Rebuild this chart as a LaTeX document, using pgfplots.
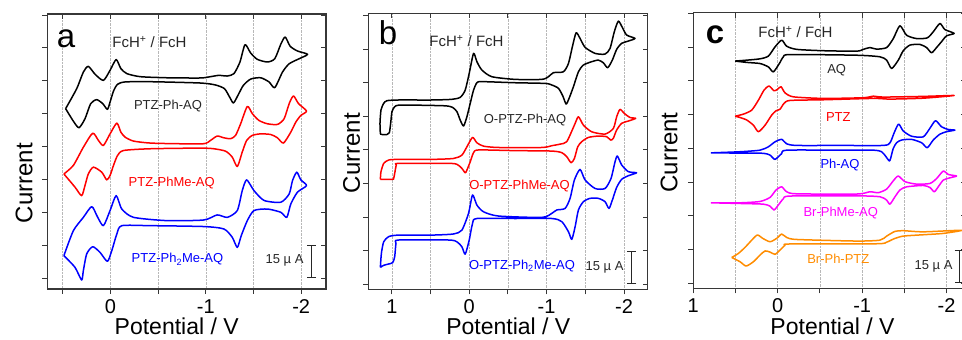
\documentclass[border=0pt]{standalone}
\usepackage{fontspec}
\setmainfont{Liberation Sans}
\usepackage{pgfplots}
\pgfplotsset{compat=1.18}
\usetikzlibrary{arrows.meta}

\definecolor{cvred}{RGB}{255,0,0}
\definecolor{cvblue}{RGB}{0,0,255}
\definecolor{cvmag}{RGB}{255,0,255}
\definecolor{cvorange}{RGB}{255,140,0}
\definecolor{frame}{RGB}{55,55,55}

\pgfplotsset{
  cvbase/.style={
    scale only axis, x dir=reverse,
    axis line style={draw=frame, line width=1.1pt},
    ytick={0,15,...,120}, yticklabels={},
    xmajorgrids, xminorgrids,
    major grid style={densely dotted, black!28, line width=0.6pt},
    minor grid style={densely dotted, black!28, line width=0.6pt},
    tick align=outside, xtick pos=bottom, ytick pos=left,
    major tick length=5pt, minor tick length=5pt,
    tick style={draw=frame, line width=1pt},
    minor tick style={draw=frame, line width=1pt},
    xticklabel style={font=\fontsize{20}{20}\selectfont, text=black, yshift=-2pt},
    /pgf/number format/assume math mode=true,
  },
  cvmirror/.style={
    scale only axis, x dir=reverse,
    axis line style={draw=frame, line width=1.1pt},
    ytick={0,15,...,120}, yticklabels={}, xticklabels={},
    tick align=inside, xtick pos=top, ytick pos=right,
    major tick length=5pt, minor tick length=5pt,
    tick style={draw=frame, line width=1pt},
    minor tick style={draw=frame, line width=1pt},
  },
  geomA/.style={at={(47.5pt,51pt)}, anchor=south west, width=278.5pt, height=275pt,
    xmin=-2.26, xmax=0.66, ymin=-5, ymax=120.5,
    xtick={-2,-1,0}, xticklabels={-2,-1,0}, minor xtick={-2.5,-1.5,-0.5,0.5}},
  geomB/.style={at={(368.3pt,50.7pt)}, anchor=south west, width=279.4pt, height=276pt,
    xmin=-2.306, xmax=1.304, ymin=-2.2, ymax=121,
    xtick={-2,-1,0,1}, xticklabels={-2,-1,0,1}, minor xtick={-2.5,-1.5,-0.5,0.5}},
  geomC/.style={at={(693.3pt,51.7pt)}, anchor=south west, width=272.7pt, height=275.6pt,
    xmin=-2.23, xmax=1.0, ymin=-2.2, ymax=120.3,
    xtick={-2,-1,0,1}, xticklabels={-2,-1,0,1}, minor xtick={-2.5,-1.5,-0.5,0.5}},
  cv/.style={line width=1.5pt, smooth, tension=0.4, line join=round},
  sbar/.style={black!85, line width=1.2pt, {Bar[width=9pt]}-{Bar[width=9pt]}},
}

\begin{document}
\begin{tikzpicture}[x=1pt,y=1pt]
\path[use as bounding box] (0,0) rectangle (962,340);

% ---------------- panel a ----------------
\begin{axis}[cvbase, geomA]
\addplot[cv, black] coordinates {(0.470,77.3) (0.354,86.4) (0.284,94.0) (0.232,96.6) (0.161,93.0) (0.074,90.2) (0.004,94.8) (-0.060,99.7) (-0.109,95.6) (-0.172,93.3) (-0.312,91.9) (-0.593,91.4) (-0.944,91.3) (-1.049,91.9) (-1.137,92.5) (-1.225,92.2) (-1.295,93.3) (-1.358,98.6) (-1.411,106.5) (-1.470,102.7) (-1.540,99.8) (-1.646,98.6) (-1.723,100.1) (-1.786,106.7) (-1.832,110.0) (-1.884,105.8) (-1.961,103.6) (-2.067,102.1) (-1.979,100.1) (-1.874,97.8) (-1.804,94.0) (-1.723,86.9) (-1.663,89.5) (-1.575,91.4) (-1.470,90.8) (-1.393,87.9) (-1.337,83.4) (-1.290,79.9) (-1.253,82.3) (-1.196,86.4) (-1.102,88.1) (-0.944,89.0) (-0.418,89.6) (-0.154,89.5) (-0.074,88.4) (-0.032,85.3) (0.004,80.3) (0.032,77.0) (0.081,79.6) (0.144,81.4) (0.207,79.6) (0.267,72.7) (0.330,68.6) (0.389,71.6) (0.470,77.3)};
\addplot[cv, cvred] coordinates {(0.488,47.5) (0.389,51.4) (0.284,59.7) (0.186,66.1) (0.126,62.8) (0.074,60.5) (0.004,65.8) (-0.067,70.7) (-0.109,66.6) (-0.154,64.3) (-0.242,62.5) (-0.418,61.6) (-0.698,61.3) (-0.979,61.3) (-1.049,62.8) (-1.119,64.8) (-1.189,64.0) (-1.260,63.6) (-1.312,65.1) (-1.365,70.4) (-1.435,78.3) (-1.488,75.0) (-1.558,71.9) (-1.646,70.4) (-1.751,70.1) (-1.821,72.7) (-1.874,79.6) (-1.919,83.1) (-1.972,79.6) (-2.056,76.2) (-1.996,74.2) (-1.944,71.2) (-1.891,66.6) (-1.814,61.6) (-1.751,64.0) (-1.681,65.5) (-1.575,65.8) (-1.488,65.1) (-1.428,62.8) (-1.382,57.5) (-1.330,50.9) (-1.277,55.2) (-1.207,57.9) (-1.084,59.0) (-0.944,59.3) (-0.418,59.0) (-0.137,58.2) (-0.074,55.9) (-0.032,51.4) (0.004,46.8) (0.039,44.8) (0.091,48.3) (0.179,50.6) (0.232,47.5) (0.267,42.2) (0.302,37.6) (0.372,41.5) (0.488,47.5)};
\addplot[cv, cvblue] coordinates {(0.488,10.2) (0.389,21.6) (0.284,27.7) (0.196,32.6) (0.137,28.0) (0.074,23.9) (0.004,30.8) (-0.060,37.6) (-0.119,31.5) (-0.242,27.7) (-0.593,26.2) (-0.979,26.5) (-1.119,28.8) (-1.225,27.7) (-1.330,30.8) (-1.382,39.9) (-1.428,44.8) (-1.505,39.9) (-1.611,35.4) (-1.786,34.6) (-1.874,38.4) (-1.909,44.5) (-1.954,48.3) (-1.996,44.8) (-2.056,42.2) (-1.961,39.2) (-1.891,33.8) (-1.849,27.7) (-1.786,30.0) (-1.646,31.5) (-1.505,30.8) (-1.435,26.2) (-1.372,19.4) (-1.330,14.0) (-1.277,18.6) (-1.189,22.4) (-0.979,23.5) (-0.418,23.9) (-0.119,23.9) (-0.067,20.1) (-0.014,12.5) (0.032,7.6) (0.109,11.7) (0.186,14.3) (0.249,11.0) (0.284,3.4) (0.302,-0.9) (0.372,4.9) (0.488,10.2)};
\addplot[sbar] coordinates {(-2.11,0) (-2.11,15)};
\end{axis}
\begin{axis}[cvmirror, geomA, xticklabels={}]
\end{axis}

% ---------------- panel b ----------------
\begin{axis}[cvbase, geomB]
\addplot[cv, black] coordinates {(1.148,67.1) (1.153,71.9) (1.140,77.8) (1.105,80.8) (1.062,82.0) (0.912,82.3) (0.482,82.3) (0.224,82.6) (0.116,83.5) (0.052,86.7) (0.0,94.2) (-0.056,103.1) (-0.099,99.4) (-0.163,95.7) (-0.292,92.7) (-0.594,91.5) (-0.938,91.5) (-1.024,92.7) (-1.088,94.5) (-1.217,94.9) (-1.282,98.6) (-1.333,106.1) (-1.381,112.3) (-1.432,109.8) (-1.497,105.8) (-1.626,103.1) (-1.755,102.8) (-1.819,105.3) (-1.875,112.8) (-1.927,117.5) (-1.978,114.7) (-2.034,111.3) (-2.142,109.8) (-2.056,108.6) (-1.970,107.6) (-1.905,104.9) (-1.849,100.1) (-1.789,96.7) (-1.733,98.9) (-1.669,100.1) (-1.583,99.4) (-1.475,97.9) (-1.411,94.9) (-1.346,88.2) (-1.290,83.0) (-1.252,80.5) (-1.209,84.1) (-1.153,87.5) (-1.067,89.0) (-0.981,89.7) (-0.594,90.0) (-0.163,90.5) (-0.099,90.0) (-0.056,86.7) (-0.013,80.8) (0.030,74.8) (0.073,70.7) (0.116,73.3) (0.159,77.1) (0.215,79.0) (0.310,79.7) (0.697,80.0) (0.912,80.0) (0.963,79.3) (0.998,77.1) (1.015,71.9) (1.032,67.7) (1.062,66.9) (1.127,66.9) (1.148,67.1)};
\addplot[cv, cvred] coordinates {(1.148,46.9) (1.140,50.3) (1.105,54.0) (1.041,55.5) (0.912,55.8) (0.482,55.8) (0.202,56.2) (0.095,57.7) (0.030,61.4) (-0.043,65.6) (-0.099,63.2) (-0.185,61.7) (-0.378,61.1) (-0.938,61.1) (-1.067,61.9) (-1.174,62.6) (-1.260,63.7) (-1.359,71.1) (-1.411,74.8) (-1.475,71.1) (-1.583,68.1) (-1.755,67.1) (-1.862,69.6) (-1.905,74.8) (-1.948,78.1) (-2.004,76.3) (-2.077,74.5) (-2.151,74.1) (-2.056,72.9) (-1.970,71.9) (-1.905,68.9) (-1.862,65.2) (-1.828,64.4) (-1.776,65.9) (-1.669,66.2) (-1.540,65.6) (-1.454,63.7) (-1.402,61.4) (-1.359,56.2) (-1.316,54.3) (-1.260,57.0) (-1.196,58.8) (-1.067,59.5) (-0.594,59.7) (-0.120,60.0) (-0.056,58.8) (-0.013,54.7) (0.030,51.0) (0.052,49.8) (0.095,51.8) (0.159,53.6) (0.267,54.0) (0.912,54.0) (0.942,53.3) (0.963,49.5) (0.976,47.3) (0.989,46.9) (1.148,46.9)};
\addplot[cv, cvblue] coordinates {(1.148,7.6) (1.135,13.8) (1.105,19.0) (1.041,21.3) (0.912,22.0) (0.482,22.0) (0.202,22.5) (0.095,24.2) (0.009,31.7) (-0.043,39.9) (-0.099,35.4) (-0.185,32.4) (-0.378,30.5) (-0.938,29.9) (-1.067,31.7) (-1.131,33.2) (-1.239,33.9) (-1.303,38.4) (-1.359,46.6) (-1.432,51.3) (-1.497,46.6) (-1.626,42.8) (-1.755,42.8) (-1.832,47.3) (-1.884,54.7) (-1.914,57.3) (-1.970,53.3) (-2.056,50.3) (-2.163,49.8) (-2.056,48.5) (-1.970,46.9) (-1.905,43.3) (-1.849,37.6) (-1.806,33.9) (-1.755,36.9) (-1.669,38.4) (-1.561,38.4) (-1.475,36.9) (-1.411,33.2) (-1.368,25.7) (-1.325,20.1) (-1.282,23.5) (-1.196,28.0) (-1.067,29.4) (-0.594,29.4) (-0.099,29.4) (-0.043,27.2) (0.0,19.8) (0.052,13.5) (0.095,16.8) (0.159,19.0) (0.267,19.8) (0.912,19.8) (0.946,18.3) (0.963,12.3) (0.989,9.7) (1.041,9.1) (1.105,8.5) (1.148,7.6)};
\addplot[sbar] coordinates {(-2.10,0) (-2.10,15)};
\end{axis}
\begin{axis}[cvmirror, geomB, xticklabels={}]
\end{axis}

% ---------------- panel c ----------------
\begin{axis}[cvbase, geomC]
\addplot[cv, black] coordinates {(0.505,98.8) (0.367,99.2) (0.209,99.8) (0.111,101.0) (0.032,105.1) (-0.047,108.1) (-0.106,105.4) (-0.224,104.0) (-0.540,103.4) (-0.934,103.2) (-1.013,104.0) (-1.092,104.8) (-1.171,104.1) (-1.290,104.8) (-1.369,108.8) (-1.447,114.5) (-1.526,110.3) (-1.644,108.8) (-1.771,109.1) (-1.842,111.8) (-1.921,115.5) (-1.980,112.8) (-2.090,111.1) (-1.999,110.0) (-1.940,107.4) (-1.881,104.8) (-1.822,102.5) (-1.763,104.8) (-1.684,106.2) (-1.566,105.9) (-1.487,103.4) (-1.428,99.2) (-1.349,95.5) (-1.290,99.2) (-1.211,100.7) (-0.934,101.4) (-0.146,101.7) (-0.067,100.7) (-0.019,97.7) (0.052,94.0) (0.111,96.2) (0.209,97.7) (0.367,98.2) (0.505,98.8)};
\addplot[cv, cvred] coordinates {(0.505,74.3) (0.407,75.2) (0.308,77.0) (0.229,81.4) (0.162,85.9) (0.103,87.7) (0.044,85.6) (0.004,86.2) (-0.039,87.4) (-0.086,84.7) (-0.185,82.9) (-0.540,82.2) (-1.013,82.5) (-1.132,83.2) (-1.250,82.8) (-1.724,83.1) (-2.090,83.5) (-1.724,82.3) (-1.329,81.9) (-1.132,82.2) (-0.540,81.6) (-0.146,81.3) (-0.075,80.0) (-0.027,77.4) (0.020,76.7) (0.071,74.8) (0.150,70.3) (0.229,67.4) (0.288,70.3) (0.367,72.6) (0.446,73.7) (0.505,74.3)};
\addplot[cv, cvblue] coordinates {(0.793,58.0) (0.446,58.5) (0.209,59.2) (0.111,60.7) (0.032,62.9) (-0.047,64.0) (-0.106,62.0) (-0.225,61.3) (-0.737,61.3) (-1.250,61.3) (-1.330,62.5) (-1.380,67.0) (-1.432,70.8) (-1.487,67.7) (-1.585,65.4) (-1.723,65.1) (-1.802,68.9) (-1.869,72.3) (-1.940,69.6) (-2.019,68.4) (-2.098,68.1) (-1.999,67.4) (-1.921,66.3) (-1.842,63.7) (-1.771,60.3) (-1.704,62.5) (-1.585,64.0) (-1.467,63.7) (-1.408,62.5) (-1.368,59.9) (-1.337,55.5) (-1.321,54.4) (-1.282,56.3) (-1.231,58.5) (-1.132,59.2) (-0.737,59.2) (-0.106,59.2) (-0.047,57.7) (0.032,55.1) (0.091,57.0) (0.170,57.8) (0.446,57.9) (0.793,58.0)};
\addplot[cv, cvmag] coordinates {(0.793,35.8) (0.446,35.8) (0.209,36.4) (0.091,38.2) (0.020,41.5) (-0.047,42.9) (-0.106,40.7) (-0.225,39.8) (-0.935,39.7) (-1.092,40.7) (-1.191,40.3) (-1.290,41.9) (-1.369,45.6) (-1.428,47.7) (-1.507,45.2) (-1.645,44.1) (-1.803,44.4) (-1.882,46.6) (-1.961,49.9) (-2.020,48.4) (-2.118,47.7) (-2.039,46.9) (-1.961,45.9) (-1.901,42.9) (-1.854,40.7) (-1.803,42.6) (-1.724,43.5) (-1.526,42.9) (-1.448,41.5) (-1.389,38.5) (-1.329,35.2) (-1.290,37.0) (-1.211,38.5) (-0.935,38.9) (-0.146,38.8) (-0.067,37.6) (-0.007,34.8) (0.044,32.6) (0.091,34.3) (0.170,35.2) (0.446,35.5) (0.793,35.8)};
\addplot[cv, cvorange] coordinates {(0.545,11.5) (0.466,13.3) (0.387,16.0) (0.308,19.2) (0.241,21.5) (0.178,20.0) (0.091,18.5) (0.012,20.0) (-0.047,21.9) (-0.106,20.4) (-0.225,19.5) (-0.935,18.8) (-1.211,19.2) (-1.290,21.0) (-1.389,23.1) (-1.487,23.4) (-1.724,22.9) (-2.180,23.6) (-1.961,22.2) (-1.724,21.6) (-1.487,21.0) (-1.377,19.8) (-1.290,18.3) (-1.171,17.6) (-0.146,17.5) (-0.086,16.9) (-0.027,14.8) (0.032,12.9) (0.091,13.9) (0.150,14.4) (0.209,12.6) (0.288,9.6) (0.375,7.7) (0.446,9.6) (0.545,11.5)};
\addplot[sbar] coordinates {(-2.149,0) (-2.149,15)};
\end{axis}
\begin{axis}[cvmirror, geomC, xticklabels={}]
\end{axis}

% ---------------- texts ----------------
\tikzset{lab/.style={font=\fontsize{13}{13}\selectfont, anchor=base}}
\node[font=\fontsize{33}{33}\selectfont, anchor=base] at (66,292) {a};
\node[font=\fontsize{33}{33}\selectfont, anchor=base] at (388,295) {b};
\node[font=\fontsize{33}{33}\selectfont\bfseries, anchor=base] at (715,296.7) {c};

\node[font=\fontsize{15}{15}\selectfont, anchor=base, text=black!85] at (149.5,292) {FcH\textsuperscript{+} / FcH};
\node[font=\fontsize{15}{15}\selectfont, anchor=base, text=black!85] at (466.5,293) {FcH\textsuperscript{+} / FcH};
\node[font=\fontsize{15}{15}\selectfont, anchor=base, text=black!85] at (795.5,302) {FcH\textsuperscript{+} / FcH};

\node[lab, text=black!85] at (168,230) {PTZ-Ph-AQ};
\node[lab, text=cvred] at (171.7,153) {PTZ-PhMe-AQ};
\node[lab, text=cvblue] at (177.5,77) {PTZ-Ph\textsubscript{2}Me-AQ};
\node[lab, text=black!85] at (525,216.7) {O-PTZ-Ph-AQ};
\node[lab, text=cvred] at (519.5,150) {O-PTZ-PhMe-AQ};
\node[lab, text=cvblue] at (522,70.5) {O-PTZ-Ph\textsubscript{2}Me-AQ};
\node[lab, text=black!85] at (836.7,266.7) {AQ};
\node[lab, text=cvred] at (838.3,218.3) {PTZ};
\node[lab, text=cvblue] at (840,171.7) {Ph-AQ};
\node[lab, text=cvmag] at (840.7,123) {Br-PhMe-AQ};
\node[lab, text=cvorange] at (838.3,76) {Br-Ph-PTZ};

\node[lab, anchor=base east, text=black!85] at (307,76) {15 µ A};
\node[lab, anchor=base east, text=black!85] at (627,69.5) {15 µ A};
\node[lab, anchor=base east, text=black!85] at (956,70) {15 µ A};

\node[font=\fontsize{24}{24}\selectfont, rotate=90] at (24,157) {Current};
\node[font=\fontsize{24}{24}\selectfont, rotate=90] at (351.5,187) {Current};
\node[font=\fontsize{24}{24}\selectfont, rotate=90] at (669,187.5) {Current};

\node[font=\fontsize{23}{23}\selectfont, anchor=base] at (176.7,5) {Potential / V};
\node[font=\fontsize{23}{23}\selectfont, anchor=base] at (508.3,5) {Potential / V};
\node[font=\fontsize{23}{23}\selectfont, anchor=base] at (832.5,5) {Potential / V};
\end{tikzpicture}
\end{document}
